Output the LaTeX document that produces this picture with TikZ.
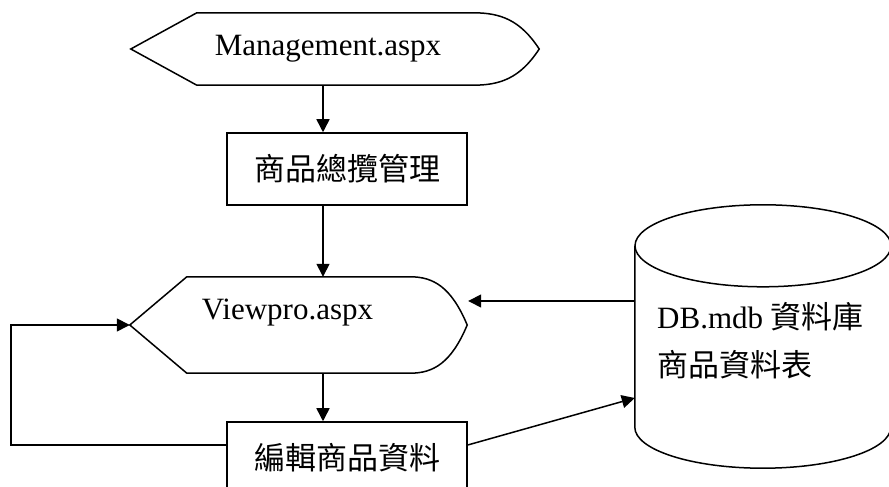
\documentclass[tikz,border=0pt]{standalone}
\usepackage{fontspec}
\setmainfont{Liberation Serif}
\newfontfamily\cjk{Noto Sans CJK TC}
\usetikzlibrary{arrows.meta}

\tikzset{
  outline/.style={draw, line width=1.5pt},
  procbox/.style={outline, minimum width=240pt, minimum height=72pt, inner sep=0pt},
  flow/.style={line width=1.5pt, -{Triangle[length=13pt,width=13pt]}},
  every node/.style={font=\fontsize{31}{48}\selectfont}
}

\begin{document}
\begin{tikzpicture}[x=1pt, y=1pt]
\useasboundingbox (0,0) rectangle (889,487);

% display shapes
\node[minimum width=408pt, minimum height=72pt, inner sep=0pt] (mgmt) at (335,438) {};
\node (mgmttext) at ([xshift=-7pt]mgmt.center) {Management.aspx};
\draw[outline] (mgmt.west) -- ([xshift=66pt]mgmt.north west) -- ([xshift=-66pt]mgmt.north east)
  .. controls ([xshift=-39pt]mgmt.north east) and ([xshift=-19pt,yshift=-7pt]mgmt.north east) .. (mgmt.east)
  .. controls ([xshift=-19pt,yshift=7pt]mgmt.south east) and ([xshift=-39pt]mgmt.south east) .. ([xshift=-66pt]mgmt.south east)
  -- ([xshift=66pt]mgmt.south west) -- cycle;

\node[minimum width=337pt, minimum height=96pt, inner sep=0pt] (view) at (298.5,162) {};
\node (viewtext) at ([xshift=-11pt,yshift=12pt]view.center) {Viewpro.aspx};
\draw[outline] (view.west) -- ([xshift=57pt]view.north west) -- ([xshift=-57pt]view.north east)
  .. controls ([xshift=-34pt]view.north east) and ([xshift=-16pt,yshift=-10pt]view.north east) .. (view.east)
  .. controls ([xshift=-16pt,yshift=10pt]view.south east) and ([xshift=-34pt]view.south east) .. ([xshift=-57pt]view.south east)
  -- ([xshift=57pt]view.south west) -- cycle;

% process boxes
\node[procbox] (overview) at (347,318) {\cjk 商品總攬管理};
\node[procbox] (edit) at (347,29) {\cjk 編輯商品資料};

% database
\node[minimum width=256pt, minimum height=263pt, inner sep=0pt] (db) at (763,150.5) {};
\draw[outline] ([yshift=-41pt]db.north west) -- ([yshift=41pt]db.south west)
  arc[start angle=180, end angle=360, x radius=128pt, y radius=41pt] -- ([yshift=-41pt]db.north east);
\draw[outline] ([yshift=-41pt]db.north) ellipse[x radius=128pt, y radius=41pt];
\node[align=left, anchor=west, inner sep=0pt] (dbtext) at (657,146) {DB.mdb {\cjk 資料庫}\\{\cjk 商品資料表}};

% connectors
\coordinate (trunk) at (323,0);
\draw[flow] (mgmt.south -| trunk) -- (overview.north -| trunk);
\draw[flow] (overview.south -| trunk) -- (view.north -| trunk);
\draw[flow] (view.south -| trunk) -- (edit.north -| trunk);
\draw[flow] ([yshift=35.5pt]db.west) -- ([xshift=1pt,yshift=24pt]view.east);
\draw[flow] ([yshift=13pt]edit.east) -- ([yshift=-61.5pt]db.west);
\draw[flow] ([yshift=13pt]edit.west) -| ([xshift=-119pt]view.west) -- (view.west);
\end{tikzpicture}
\end{document}
